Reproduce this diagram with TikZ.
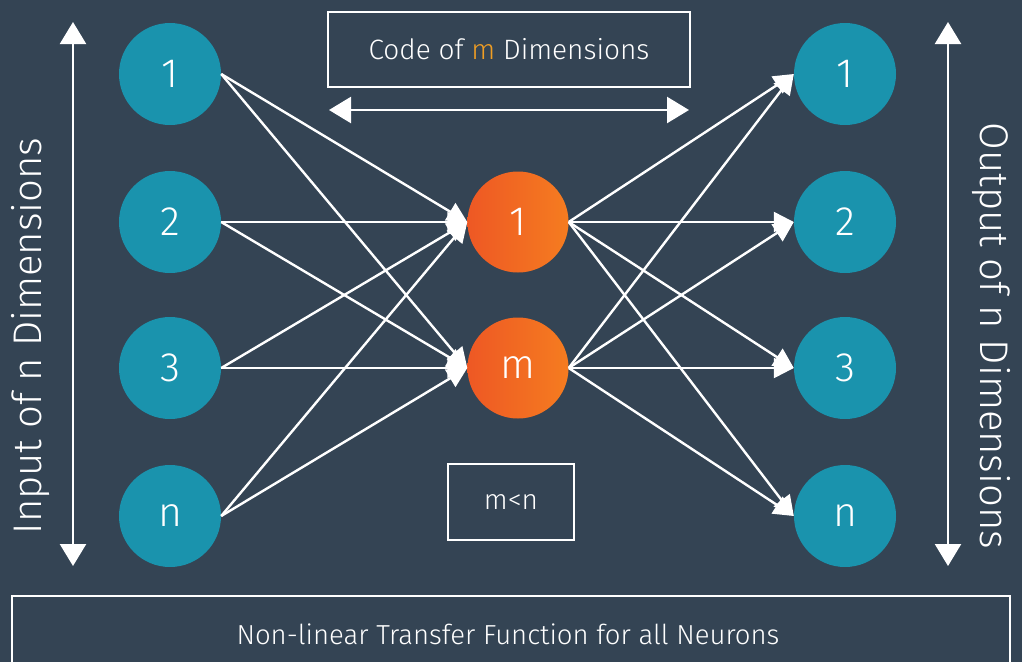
\documentclass[tikz,border=0pt]{standalone}
\usepackage{fontspec}
\setmainfont{Fira Sans}[UprightFont={* Light}]
\usetikzlibrary{arrows.meta}
\definecolor{bg}{RGB}{52,68,84}
\definecolor{tealn}{RGB}{26,147,173}
\definecolor{orl}{RGB}{238,88,36}
\definecolor{orr}{RGB}{245,124,32}
\definecolor{amber}{RGB}{240,158,36}
\begin{document}
\begin{tikzpicture}[x=1pt,y=-1pt,
  neuron/.style={circle, fill=tealn, minimum size=102pt, inner sep=0pt, text=white,
    font=\fontsize{41}{41}\selectfont},
  hidden/.style={circle, minimum size=101pt, inner sep=0pt, text=white,
    left color=orl, right color=orr, font=\fontsize{41}{41}\selectfont},
  link/.style={white, line width=2.4pt, -{Triangle[length=20pt,width=20pt]}},
  bigarrow/.style={white, line width=2.4pt,
    {Triangle[length=22pt,width=26pt]}-{Triangle[length=22pt,width=26pt]}},
  box/.style={draw=white, line width=2.4pt, inner sep=0pt, text=white},
  label/.style={text=white, inner sep=0pt}]
\fill[bg] (0,0) rectangle (1022,662);
\useasboundingbox (0,0) rectangle (1022,662);
\clip (0,0) rectangle (1022,662);

% input layer
\node[neuron] (l1) at (170,74) {1};
\node[neuron] (l2) at (170,222) {2};
\node[neuron] (l3) at (170,368) {3};
\node[neuron] (ln) at (170,516) {n};

% code layer
\node[hidden] (h1) at (518,222) {1};
\node[hidden] (hm) at (518,368) {m};

% output layer
\node[neuron] (r1) at (845,74) {1};
\node[neuron] (r2) at (845,222) {2};
\node[neuron] (r3) at (845,368) {3};
\node[neuron] (rn) at (845,516) {n};

% encoder connections
\foreach \s in {l1,l2,l3,ln}
  \foreach \t in {h1,hm}
    \draw[link] (\s.east) -- (\t.west);

% decoder connections
\foreach \s in {h1,hm}
  \foreach \t in {r1,r2,r3,rn}
    \draw[link] (\s.east) -- (\t.west);

% dimension arrows
\coordinate (inTop) at (73,22);
\coordinate (inBot) at (73,566);
\coordinate (outTop) at (948,22);
\coordinate (outBot) at (948,566);
\coordinate (codeL) at (329,110);
\coordinate (codeR) at (689,110);
\draw[bigarrow] (inBot) -- (inTop);
\draw[bigarrow] (outBot) -- (outTop);
\draw[bigarrow] (codeL) -- (codeR);

\node[label, rotate=90, font=\fontsize{40}{40}\selectfont] (inlab) at (31,336) {Input of n Dimensions};
\node[label, rotate=-90, font=\fontsize{40}{40}\selectfont] (outlab) at (991,336) {Output of n Dimensions};

% boxes
\node[box, minimum width=362pt, minimum height=75pt, font=\fontsize{28}{28}\selectfont]
  (code) at (509,49.5) {Code of \textcolor{amber}{m} Dimensions};
\node[box, minimum width=126pt, minimum height=76pt, font=\fontsize{28}{28}\selectfont]
  (cond) at (511,502) {m<n};
\draw[white, line width=2.4pt] (12,596) rectangle (1010,700);
\node[label, font=\fontsize{27.5}{27.5}\selectfont] (transfer) at (508,634) {Non-linear Transfer Function for all Neurons};
\end{tikzpicture}
\end{document}
